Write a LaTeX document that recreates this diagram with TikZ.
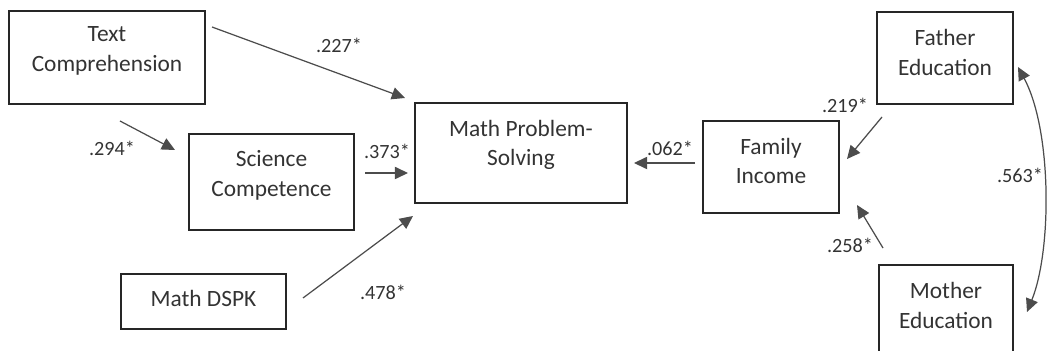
\documentclass[tikz,border=0pt]{standalone}
\usepackage{fontspec}
\setmainfont{Carlito}
\usetikzlibrary{arrows.meta}

\begin{document}
\begin{tikzpicture}[x=0.02cm,y=-0.02cm,>={Triangle[length=7.5pt,width=7pt]},
  box/.style={draw=black!85,line width=1.1pt,align=center,text=black!80,
    font=\fontsize{13.3}{17}\selectfont,inner sep=0pt,text depth=#1},
  box/.default=7pt,
  coef/.style={text=black!80,font=\fontsize{11.5}{14}\selectfont,inner sep=0pt},
  link/.style={draw=black!70,line width=0.7pt}]
  \clip (0,0) rectangle (1049,351);

  % predictors on the left
  \node[box=9.5pt,minimum width=3.92cm,minimum height=1.86cm] (textc) at (107,57.5) {Text\\Comprehension};
  \node[box=9.5pt,minimum width=3.3cm,minimum height=1.92cm] (scic) at (271.5,182) {Science\\Competence};
  \node[box=4pt,minimum width=3.3cm,minimum height=1.1cm] (dspk) at (203.5,301.5) {Math DSPK};

  % outcome
  \node[box=11.5pt,minimum width=4.24cm,minimum height=2cm] (mps) at (521,153) {Math Problem-\\Solving};

  % family background on the right
  \node[box=7pt,minimum width=2.72cm,minimum height=1.84cm] (income) at (771,167) {Family\\Income};
  \node[box=6pt,minimum width=2.72cm,minimum height=1.84cm] (father) at (945,58) {Father\\Education};
  \node[box=6pt,minimum width=2.68cm,minimum height=1.84cm] (mother) at (946,311) {Mother\\Education};

  % arrow ends
  \coordinate (tc1) at (212,27);  \coordinate (tc2) at (405,98);
  \coordinate (ts1) at (120,121); \coordinate (ts2) at (175,150);
  \coordinate (sm1) at (365,173); \coordinate (sm2) at (408,173);
  \coordinate (dm1) at (303,298); \coordinate (dm2) at (413,216);
  \coordinate (im1) at (695,163); \coordinate (im2) at (634,163);
  \coordinate (fi1) at (882,117); \coordinate (fi2) at (847,159);
  \coordinate (mi1) at (883,248); \coordinate (mi2) at (857,205);
  \coordinate (fm1) at (1018,67); \coordinate (fm2) at (1027,312);

  \draw[link,->] (tc1) -- (tc2);
  \draw[link,->] (ts1) -- (ts2);
  \draw[link,->] (sm1) -- (sm2);
  \draw[link,->] (dm1) -- (dm2);
  \draw[link,->] (im1) -- (im2);
  \draw[link,->] (fi1) -- (fi2);
  \draw[link,->] (mi1) -- (mi2);
  \draw[link,<->] (fm1) .. controls (1052,130) and (1052,250) .. (fm2);

  % path coefficients
  \node[coef] (c227) at (339,45) {.227*};
  \node[coef] (c294) at (112,148) {.294*};
  \node[coef] (c373) at (387,151) {.373*};
  \node[coef] (c478) at (383,292) {.478*};
  \node[coef] (c062) at (670,148) {.062*};
  \node[coef] (c219) at (845,105) {.219*};
  \node[coef] (c258) at (850,245) {.258*};
  \node[coef] (c563) at (1020,175) {.563*};
\end{tikzpicture}
\end{document}
